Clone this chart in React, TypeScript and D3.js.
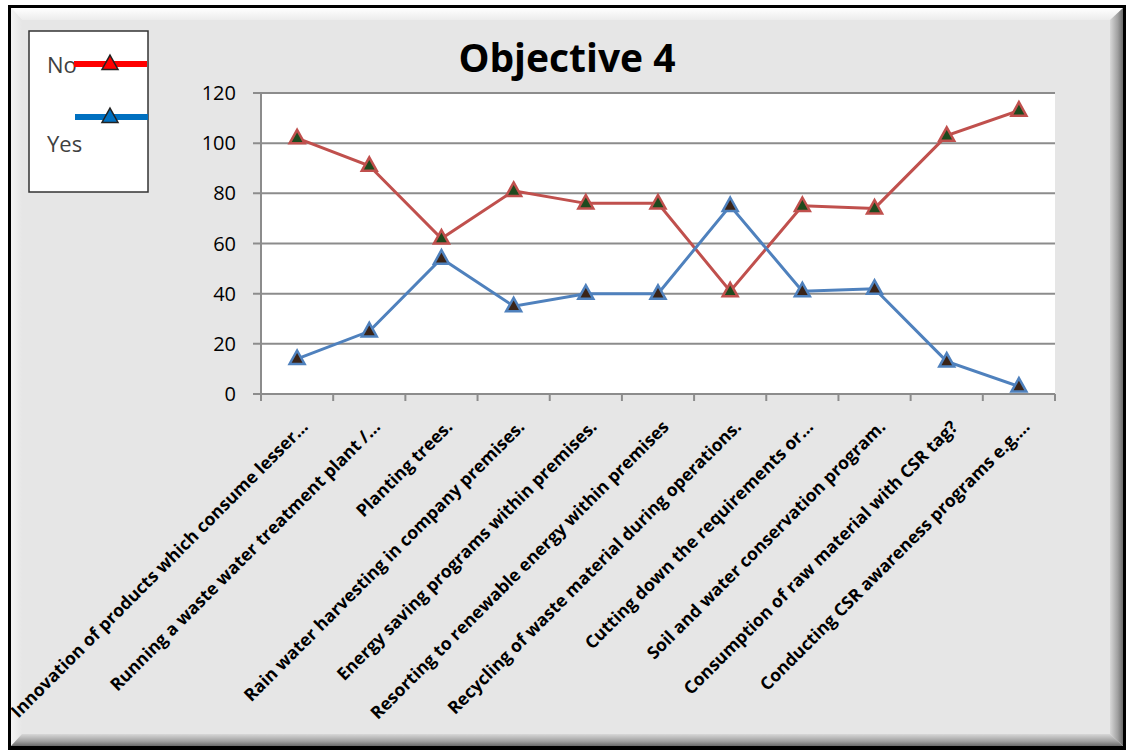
import React from "react";
import * as d3 from "d3";

// Survey responses for "Objective 4": counts of No / Yes per practice
const categories: string[] = [
  "Innovation of products which consume lesser…",
  "Running a waste water treatment plant /…",
  "Planting trees.",
  "Rain water harvesting in company premises.",
  "Energy saving programs within premises.",
  "Resorting to renewable energy within premises",
  "Recycling of waste material during operations.",
  "Cutting down the requirements or…",
  "Soil and water conservation program.",
  "Consumption of raw material with CSR tag?",
  "Conducting CSR awareness programs e.g.…",
];
const noValues: number[] = [102, 91, 62, 81, 76, 76, 41, 75, 74, 103, 113];
const yesValues: number[] = [14, 25, 54, 35, 40, 40, 75, 41, 42, 13, 3];
const yTicks: number[] = [0, 20, 40, 60, 80, 100, 120];

const W = 1126;
const H = 750;
const plot = { left: 261, right: 1055, top: 93, bottom: 394 };
const FONT = "'Open Sans', 'Liberation Sans', sans-serif";

function triPath(cx: number, cy: number, s: number): string {
  const h = s * 0.9;
  return `M${cx},${cy - h * 0.62} L${cx + s / 2},${cy + h * 0.38} L${cx - s / 2},${cy + h * 0.38} Z`;
}

export default function App() {
  const x = d3
    .scaleBand<string>()
    .domain(categories)
    .range([plot.left, plot.right])
    .padding(0);
  const y = d3.scaleLinear().domain([0, 120]).range([plot.bottom, plot.top]);
  const cx = (c: string) => (x(c) ?? 0) + x.bandwidth() / 2;

  const line = d3
    .line<number>()
    .x((_, i) => cx(categories[i]))
    .y((d) => y(d));

  const boundaries = d3.range(categories.length + 1).map((i) => plot.left + i * x.bandwidth());

  const series = [
    { name: "No", values: noValues, stroke: "#C0504D", fill: "#1E4A1E" },
    { name: "Yes", values: yesValues, stroke: "#4F81BD", fill: "#3A2418" },
  ];

  return (
    <svg
      width={W}
      height={H}
      style={{ position: "absolute", left: 0, top: 0, display: "block" }}
      fontFamily={FONT}
    >
      <defs>
        <linearGradient id="bevTop" x1="0" y1="0" x2="0" y2="1">
          <stop offset="0" stopColor="#ffffff" />
          <stop offset="1" stopColor="#ececec" />
        </linearGradient>
        <linearGradient id="bevLeft" x1="0" y1="0" x2="1" y2="0">
          <stop offset="0" stopColor="#f4f4f4" />
          <stop offset="1" stopColor="#e6e6e6" />
        </linearGradient>
        <linearGradient id="bevRight" x1="0" y1="0" x2="1" y2="0">
          <stop offset="0" stopColor="#d8d8d8" />
          <stop offset="0.6" stopColor="#a0a0a0" />
          <stop offset="1" stopColor="#6a6a6a" />
        </linearGradient>
        <linearGradient id="bevBottom" x1="0" y1="0" x2="0" y2="1">
          <stop offset="0" stopColor="#d8d8d8" />
          <stop offset="0.6" stopColor="#a0a0a0" />
          <stop offset="1" stopColor="#6a6a6a" />
        </linearGradient>
      </defs>

      {/* beveled frame */}
      <rect x={8} y={5} width={1118} height={745} fill="#000" />
      <rect x={11} y={8} width={1112} height={738} fill="#e6e6e6" />
      <polygon points="11,8 1123,8 1110,20 22,20" fill="url(#bevTop)" />
      <polygon points="11,8 22,20 22,734 11,746" fill="url(#bevLeft)" />
      <polygon points="1123,8 1123,746 1110,734 1110,20" fill="url(#bevRight)" />
      <polygon points="11,746 22,734 1110,734 1123,746" fill="url(#bevBottom)" />

      {/* title */}
      <text x={567} y={72} textAnchor="middle" fontSize={39} fontWeight={700} fill="#000">
        Objective 4
      </text>

      {/* plot area */}
      <rect
        x={plot.left}
        y={plot.top}
        width={plot.right - plot.left}
        height={plot.bottom - plot.top}
        fill="#fff"
      />

      {/* gridlines and y axis */}
      {yTicks.map((t) => (
        <g key={t}>
          <line x1={plot.left - 8} x2={plot.right} y1={y(t)} y2={y(t)} stroke="#8c8c8c" strokeWidth={2} />
          <text x={236} y={y(t)} dy="0.35em" textAnchor="end" fontSize={20} fill="#000">
            {t}
          </text>
        </g>
      ))}
      <line x1={plot.left} x2={plot.left} y1={plot.top} y2={plot.bottom + 7} stroke="#8c8c8c" strokeWidth={2} />
      {boundaries.map((b, i) => (
        <line key={i} x1={b} x2={b} y1={plot.bottom} y2={plot.bottom + 7} stroke="#8c8c8c" strokeWidth={2} />
      ))}

      {/* category labels */}
      {categories.map((c) => (
        <text
          key={c}
          transform={`translate(${cx(c) + 12},${plot.bottom + 34}) rotate(-45)`}
          textAnchor="end"
          fontSize={17.5}
          fontWeight={700}
          fill="#000"
        >
          {c}
        </text>
      ))}

      {/* series */}
      {series.map((s) => (
        <g key={s.name}>
          <path d={line(s.values) ?? ""} fill="none" stroke={s.stroke} strokeWidth={3} />
          {s.values.map((v, i) => (
            <path
              key={i}
              d={triPath(cx(categories[i]), y(v), 15)}
              fill={s.fill}
              stroke={s.stroke}
              strokeWidth={2.5}
              strokeLinejoin="miter"
            />
          ))}
        </g>
      ))}

      {/* legend */}
      <rect x={29} y={31} width={119} height={161} fill="#fff" stroke="#333" strokeWidth={1.5} />
      <text x={47} y={73} fontSize={22} fill="#404040">No</text>
      <line x1={74} x2={147} y1={64} y2={64} stroke="#FF0000" strokeWidth={6} />
      <path d={triPath(110, 64, 16)} fill="#FF0000" stroke="#222" strokeWidth={1.5} />
      <line x1={75} x2={148} y1={117} y2={117} stroke="#0070C0" strokeWidth={6} />
      <path d={triPath(110, 117, 16)} fill="#0070C0" stroke="#222" strokeWidth={1.5} />
      <text x={47} y={152} fontSize={22} fill="#404040">Yes</text>
    </svg>
  );
}
